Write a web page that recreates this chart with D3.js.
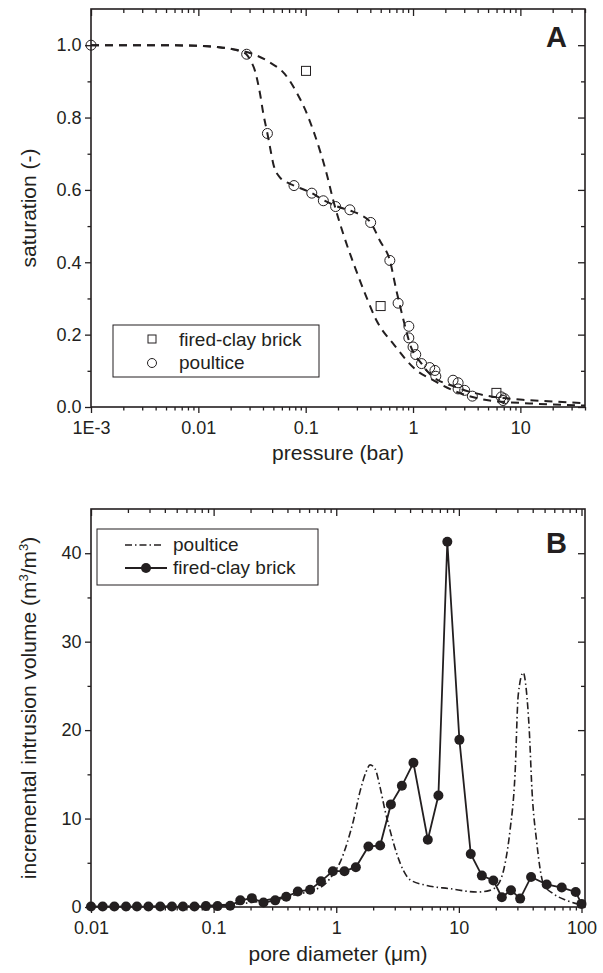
<!DOCTYPE html>
<html>
<head>
<meta charset="utf-8">
<script src="https://cdn.jsdelivr.net/npm/d3@7"></script>
<style>
  body { margin: 0; background: #fff; }
  svg { display: block; }
</style>
</head>
<body>
<script>
const INK = "#231f20"
const FONT = "'Liberation Sans', Arial, sans-serif"

// ---- panel A data (pressure in bar, saturation -) ----
const brickPressure = [0.1007, 0.499, 5.98]
const brickSaturation = [0.929, 0.279, 0.039]

const poulticePressure = [0.001, 0.0282, 0.044, 0.0778, 0.114, 0.146, 0.19, 0.258, 0.403, 0.608, 0.726,
  0.914, 0.914, 1.0, 1.06, 1.2, 1.43, 1.6, 1.63, 2.36, 2.63, 2.63, 3.03, 3.57, 6.65, 6.9, 7.1]
const poulticeSaturation = [1.0, 0.975, 0.756, 0.612, 0.591, 0.570, 0.554, 0.545, 0.510, 0.405, 0.287,
  0.223, 0.191, 0.166, 0.145, 0.12, 0.109, 0.101, 0.085, 0.074, 0.067, 0.05, 0.046, 0.030, 0.028, 0.018, 0.023]

// fitted curves
const fitPoulticeP = [0.001, 0.005, 0.01, 0.015, 0.02, 0.025, 0.028, 0.031, 0.0337, 0.0376, 0.0404, 0.044, 0.0466,
  0.05, 0.0577, 0.07, 0.0778, 0.114, 0.146, 0.19, 0.258, 0.33, 0.403, 0.49, 0.608, 0.70, 0.80, 0.96, 1.2, 1.43,
  2.5, 4.7, 10.5, 21, 40]
const fitPoulticeS = [1.0, 1.0, 0.998, 0.995, 0.99, 0.982, 0.975, 0.955, 0.929, 0.865, 0.809, 0.756, 0.717,
  0.671, 0.634, 0.618, 0.612, 0.591, 0.572, 0.556, 0.543, 0.53, 0.51, 0.46, 0.405, 0.322, 0.25, 0.165, 0.12, 0.092,
  0.055, 0.032, 0.02, 0.015, 0.01]
const fitBrickP = [0.001, 0.005, 0.01, 0.02, 0.0326, 0.0466, 0.064, 0.0824, 0.0985, 0.118, 0.136, 0.157, 0.181,
  0.224, 0.288, 0.369, 0.457, 0.653, 1.08, 1.54, 2.36, 5.18, 12.2, 40]
const fitBrickS = [1.0, 1.0, 0.998, 0.99, 0.975, 0.952, 0.920, 0.869, 0.823, 0.763, 0.708, 0.644, 0.570,
  0.478, 0.386, 0.303, 0.239, 0.175, 0.101, 0.074, 0.046, 0.018, 0.010, 0.004]

const xTicksA = [0.001, 0.01, 0.1, 1, 10]
const xLabelsA = ["1E-3", "0.01", "0.1", "1", "10"]
const yTicksA = [0, 0.2, 0.4, 0.6, 0.8, 1.0]
const yMinorA = [0.1, 0.3, 0.5, 0.7, 0.9]

// ---- panel B data (pore diameter in um, incremental intrusion m3/m3) ----
const brickDiameter = [0.01, 0.01245, 0.0155, 0.0193, 0.0237, 0.0294, 0.0367, 0.0457, 0.0562, 0.0698, 0.0865,
  0.1076, 0.1365, 0.165, 0.205, 0.255, 0.318, 0.391, 0.486, 0.612, 0.75, 0.938, 1.167, 1.445, 1.83, 2.28, 2.79,
  3.43, 4.26, 5.58, 6.81, 8.05, 10.1, 12.5, 15.4, 19.1, 22.4, 26.6, 31.6, 38.8, 52, 69, 89.7, 100]
const brickVolume = [0.05, 0.05, 0.05, 0.05, 0.05, 0.05, 0.05, 0.05, 0.05, 0.05, 0.1,
  0.1, 0.15, 0.75, 1.0, 0.5, 0.75, 1.15, 1.75, 1.95, 2.9, 4.05, 4.05, 4.5, 6.85, 6.95, 11.6,
  13.7, 16.3, 7.6, 12.6, 41.3, 18.9, 6.0, 3.55, 3.0, 1.1, 1.9, 0.95, 3.4, 2.55, 2.2, 1.7, 0.35]

const poulticeDiameter = [0.01, 0.05, 0.1, 0.2, 0.3, 0.478, 0.652, 0.813, 0.948, 1.076, 1.22, 1.38, 1.566, 1.742,
  1.888, 2.075, 2.28, 2.5, 2.75, 3.12, 3.53, 4.0, 5.47, 8.47, 14.0, 17.9, 21.0, 23.8, 26.1, 28.7, 30.5, 33.5,
  35.5, 37.5, 39.5, 43, 49, 58.9, 75.7, 97.3]
const poulticeVolume = [0.05, 0.1, 0.2, 0.5, 0.9, 1.43, 1.9, 2.6, 3.76, 5.07, 7.14, 9.76, 13.1, 15.2,
  16.07, 15.6, 13.5, 10.9, 8.64, 6.0, 4.13, 3.08, 2.44, 2.07, 1.69, 1.88, 2.6, 4.9, 8.6, 15.0, 24.0, 26.5,
  24.5, 20.0, 13.1, 7.5, 2.6, 1.5, 0.75, 0.27]

const xTicksB = [0.01, 0.1, 1, 10, 100]
const xLabelsB = ["0.01", "0.1", "1", "10", "100"]
const yTicksB = [0, 10, 20, 30, 40]
const yMinorB = [5, 15, 25, 35]

const svg = d3.select("body").append("svg")
  .attr("width", 603)
  .attr("height", 973)
  .style("font-family", FONT)

// Scales
const xA = d3.scaleLog().domain([0.001, 40]).range([91, 585])
const yA = d3.scaleLinear().domain([0, 1.1]).range([407, 9])
const xB = d3.scaleLog().domain([0.01, 106.8]).range([91, 585])
const yB = d3.scaleLinear().domain([0, 45]).range([907, 509])

function styleAxis(sel) {
  sel.attr("font-size", 18).attr("font-family", FONT)
  sel.select(".domain").remove()
  sel.selectAll("line").attr("stroke", INK).attr("stroke-width", 1.3)
  sel.selectAll("text").attr("fill", INK)
}

function drawFrame(x, y, xTicks, xLabels, yTicks, yLabels, yMinor) {
  const [x0, x1] = x.range()
  const [y0, y1] = y.range()
  const xMinor = x.ticks().filter(d => !xTicks.some(t => Math.abs(t - d) / t < 1e-6))

  svg.append("g").attr("transform", `translate(0, ${y0})`)
    .call(d3.axisBottom(x).tickValues(xTicks).tickFormat((d, i) => xLabels[i]).tickSize(6).tickPadding(8.5))
    .call(styleAxis)
  svg.append("g").attr("transform", `translate(0, ${y0})`)
    .call(d3.axisBottom(x).tickValues(xMinor).tickFormat("").tickSize(3.5))
    .call(styleAxis)
  svg.append("g").attr("transform", `translate(0, ${y1})`)
    .call(d3.axisTop(x).tickValues(xTicks).tickFormat("").tickSize(-7))
    .call(styleAxis)
  svg.append("g").attr("transform", `translate(0, ${y1})`)
    .call(d3.axisTop(x).tickValues(xMinor).tickFormat("").tickSize(-4))
    .call(styleAxis)

  svg.append("g").attr("transform", `translate(${x0}, 0)`)
    .call(d3.axisLeft(y).tickValues(yTicks).tickFormat((d, i) => yLabels[i]).tickSize(6).tickPadding(3.5))
    .call(styleAxis)
  svg.append("g").attr("transform", `translate(${x0}, 0)`)
    .call(d3.axisLeft(y).tickValues(yMinor).tickFormat("").tickSize(3.5))
    .call(styleAxis)
  svg.append("g").attr("transform", `translate(${x1}, 0)`)
    .call(d3.axisRight(y).tickValues(yTicks).tickFormat("").tickSize(-7))
    .call(styleAxis)
  svg.append("g").attr("transform", `translate(${x1}, 0)`)
    .call(d3.axisRight(y).tickValues(yMinor).tickFormat("").tickSize(-4))
    .call(styleAxis)

  svg.append("rect")
    .attr("x", x0).attr("y", y1)
    .attr("width", x1 - x0).attr("height", y0 - y1)
    .attr("fill", "none")
    .attr("stroke", INK)
    .attr("stroke-width", 1.6)
}

// ================= Panel A =================
const gA = svg.append("g")
drawFrame(xA, yA, xTicksA, xLabelsA, yTicksA, yTicksA.map(d => d.toFixed(1)), yMinorA)

const lineA = d3.line()
  .x(d => xA(d[0]))
  .y(d => yA(d[1]))
  .curve(d3.curveMonotoneX)

const fitCurves = [d3.zip(fitPoulticeP, fitPoulticeS), d3.zip(fitBrickP, fitBrickS)]
gA.selectAll("path.fit")
  .data(fitCurves)
  .enter().append("path")
  .attr("class", "fit")
  .attr("d", lineA)
  .attr("fill", "none")
  .attr("stroke", INK)
  .attr("stroke-width", 2)
  .attr("stroke-dasharray", "8,6")

gA.selectAll("circle.pt")
  .data(d3.zip(poulticePressure, poulticeSaturation))
  .enter().append("circle")
  .attr("class", "pt")
  .attr("cx", d => xA(d[0]))
  .attr("cy", d => yA(d[1]))
  .attr("r", 5)
  .attr("fill", "none")
  .attr("stroke", INK)
  .attr("stroke-width", 1)

gA.selectAll("rect.pt")
  .data(d3.zip(brickPressure, brickSaturation))
  .enter().append("rect")
  .attr("class", "pt")
  .attr("x", d => xA(d[0]) - 4.5)
  .attr("y", d => yA(d[1]) - 4.5)
  .attr("width", 9)
  .attr("height", 9)
  .attr("fill", "none")
  .attr("stroke", INK)
  .attr("stroke-width", 1)

// legend A
const legA = svg.append("g")
legA.append("rect")
  .attr("x", 113).attr("y", 325).attr("width", 206).attr("height", 52)
  .attr("fill", "none").attr("stroke", INK).attr("stroke-width", 1)
legA.append("rect")
  .attr("x", 148).attr("y", 335).attr("width", 8).attr("height", 8)
  .attr("fill", "none").attr("stroke", INK).attr("stroke-width", 1)
legA.append("circle")
  .attr("cx", 152).attr("cy", 363).attr("r", 4.5)
  .attr("fill", "none").attr("stroke", INK).attr("stroke-width", 1)
legA.append("text").attr("x", 179).attr("y", 346).attr("font-size", 19).attr("fill", INK).text("fired-clay brick")
legA.append("text").attr("x", 179).attr("y", 369).attr("font-size", 19).attr("fill", INK).text("poultice")

svg.append("text")
  .attr("x", 567).attr("y", 47)
  .attr("text-anchor", "end")
  .attr("font-size", 29).attr("font-weight", "bold").attr("fill", INK)
  .text("A")

svg.append("text")
  .attr("x", 338).attr("y", 460)
  .attr("text-anchor", "middle")
  .attr("font-size", 21).attr("fill", INK)
  .text("pressure (bar)")
svg.append("text")
  .attr("transform", "translate(36, 208) rotate(-90)")
  .attr("text-anchor", "middle")
  .attr("font-size", 21).attr("fill", INK)
  .text("saturation (-)")

// ================= Panel B =================
const gB = svg.append("g")
drawFrame(xB, yB, xTicksB, xLabelsB, yTicksB, yTicksB.map(String), yMinorB)

const lineB = d3.line()
  .x(d => xB(d[0]))
  .y(d => yB(d[1]))

gB.append("path")
  .datum(d3.zip(poulticeDiameter, poulticeVolume))
  .attr("d", lineB.curve(d3.curveMonotoneX))
  .attr("fill", "none")
  .attr("stroke", INK)
  .attr("stroke-width", 1.6)
  .attr("stroke-dasharray", "7,3,1.5,3")

const brickData = d3.zip(brickDiameter, brickVolume)
gB.append("path")
  .datum(brickData)
  .attr("d", d3.line().x(d => xB(d[0])).y(d => yB(d[1])))
  .attr("fill", "none")
  .attr("stroke", INK)
  .attr("stroke-width", 1.8)

gB.selectAll("circle")
  .data(brickData)
  .enter().append("circle")
  .attr("cx", d => xB(d[0]))
  .attr("cy", d => yB(d[1]))
  .attr("r", 5)
  .attr("fill", INK)

// legend B
const legB = svg.append("g")
legB.append("rect")
  .attr("x", 97).attr("y", 529).attr("width", 221).attr("height", 56)
  .attr("fill", "none").attr("stroke", INK).attr("stroke-width", 1)
legB.append("line")
  .attr("x1", 125).attr("x2", 164).attr("y1", 545).attr("y2", 545)
  .attr("stroke", INK).attr("stroke-width", 1.6).attr("stroke-dasharray", "7,3,1.5,3")
legB.append("line")
  .attr("x1", 125).attr("x2", 167).attr("y1", 568).attr("y2", 568)
  .attr("stroke", INK).attr("stroke-width", 1.8)
legB.append("circle")
  .attr("cx", 146).attr("cy", 568).attr("r", 5).attr("fill", INK)
legB.append("text").attr("x", 173).attr("y", 551).attr("font-size", 19).attr("fill", INK).text("poultice")
legB.append("text").attr("x", 173).attr("y", 574).attr("font-size", 19).attr("fill", INK).text("fired-clay brick")

svg.append("text")
  .attr("x", 567).attr("y", 553)
  .attr("text-anchor", "end")
  .attr("font-size", 29).attr("font-weight", "bold").attr("fill", INK)
  .text("B")

svg.append("text")
  .attr("x", 338).attr("y", 961)
  .attr("text-anchor", "middle")
  .attr("font-size", 21).attr("fill", INK)
  .text("pore diameter (μm)")

const yTitleB = svg.append("text")
  .attr("transform", "translate(36, 708) rotate(-90)")
  .attr("text-anchor", "middle")
  .attr("font-size", 21).attr("fill", INK)
yTitleB.append("tspan").text("incremental intrusion volume (m")
yTitleB.append("tspan").attr("dy", -8).attr("font-size", 13).text("3")
yTitleB.append("tspan").attr("dy", 8).text("/m")
yTitleB.append("tspan").attr("dy", -8).attr("font-size", 13).text("3")
yTitleB.append("tspan").attr("dy", 8).text(")")
</script>
</body>
</html>
